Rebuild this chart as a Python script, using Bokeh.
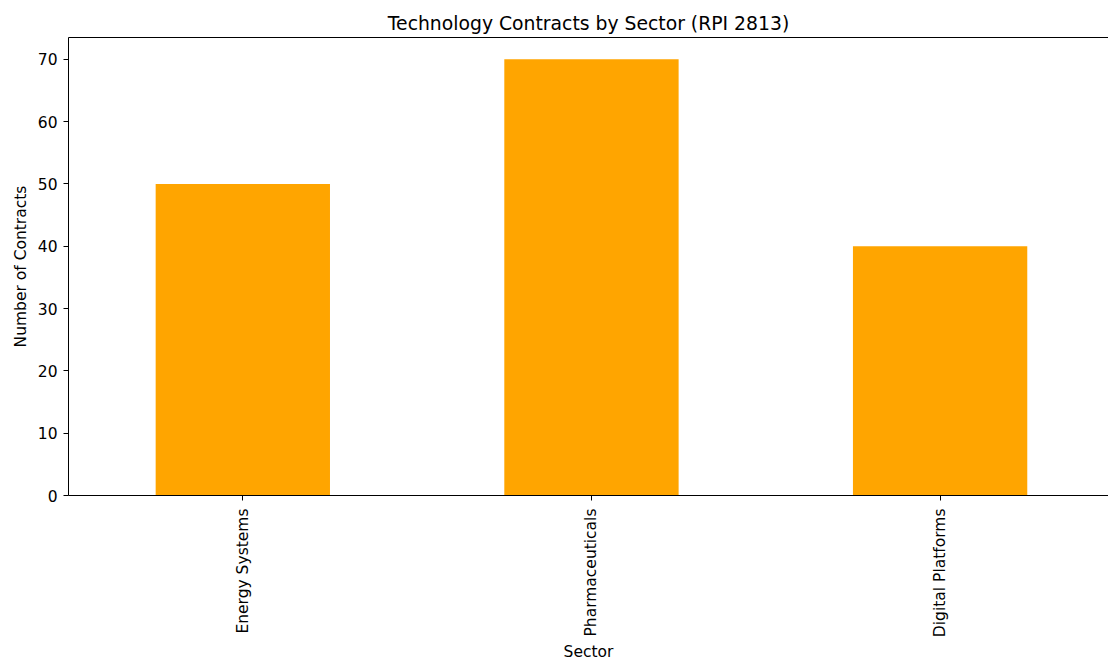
import math
from bokeh.plotting import figure
from bokeh.models import Range1d, FixedTicker, ColumnDataSource, LinearAxis
from bokeh.embed import file_html
from bokeh.resources import INLINE

sectors = ["Energy Systems", "Pharmaceuticals", "Digital Platforms"]
contracts = [50, 70, 40]
y_ticks = [0, 10, 20, 30, 40, 50, 60, 70]

FONT = "DejaVu Sans"

positions = list(range(len(sectors)))
src = ColumnDataSource(data=dict(pos=positions, sector=sectors, contracts=contracts))

p = figure(
    x_range=Range1d(-0.5, 2.483),
    y_range=Range1d(0, 73.5),
    frame_width=1040, frame_height=458,
    min_border_left=68, min_border_top=37, min_border_right=0, min_border_bottom=164,
    output_backend="svg", toolbar_location=None,
    title="Technology Contracts by Sector (RPI 2813)",
)
p.vbar(x="pos", top="contracts", width=0.5, source=src, color="#FFA500", line_color=None)

p.title.align = "center"
p.title.text_font = FONT
p.title.text_font_size = "18.8px"
p.title.text_font_style = "normal"
p.title.text_color = "#000000"
p.title.standoff = 8

p.xgrid.grid_line_color = None
p.ygrid.grid_line_color = None
p.outline_line_color = None
p.background_fill_color = "white"
p.border_fill_color = "white"

top_axis = LinearAxis(ticker=FixedTicker(ticks=[]), axis_line_color="#000000",
                      major_tick_line_color=None, minor_tick_line_color=None,
                      major_label_text_font_size="0px")
p.add_layout(top_axis, "above")

xa = p.below[0]
ya = p.left[0]

for ax in (xa, ya):
    ax.axis_line_color = "#000000"
    ax.major_tick_line_color = "#000000"
    ax.major_tick_in = 0
    ax.major_tick_out = 5
    ax.minor_tick_line_color = None
    ax.major_label_text_font = FONT
    ax.major_label_text_font_size = "15.5px"
    ax.major_label_text_color = "#000000"
    ax.axis_label_text_font = FONT
    ax.axis_label_text_font_size = "15.5px"
    ax.axis_label_text_font_style = "normal"
    ax.axis_label_text_color = "#000000"

ya.ticker = FixedTicker(ticks=y_ticks)
ya.axis_label = "Number of Contracts"
ya.major_label_standoff = 6
ya.axis_label_standoff = 5

xa.ticker = FixedTicker(ticks=positions)
xa.major_label_overrides = {i: s for i, s in zip(positions, sectors)}
xa.axis_label = "Sector"
xa.major_label_orientation = math.pi / 2
xa.major_label_standoff = 8
xa.axis_label_standoff = 3

open("out.html", "w").write(file_html(p, INLINE))
